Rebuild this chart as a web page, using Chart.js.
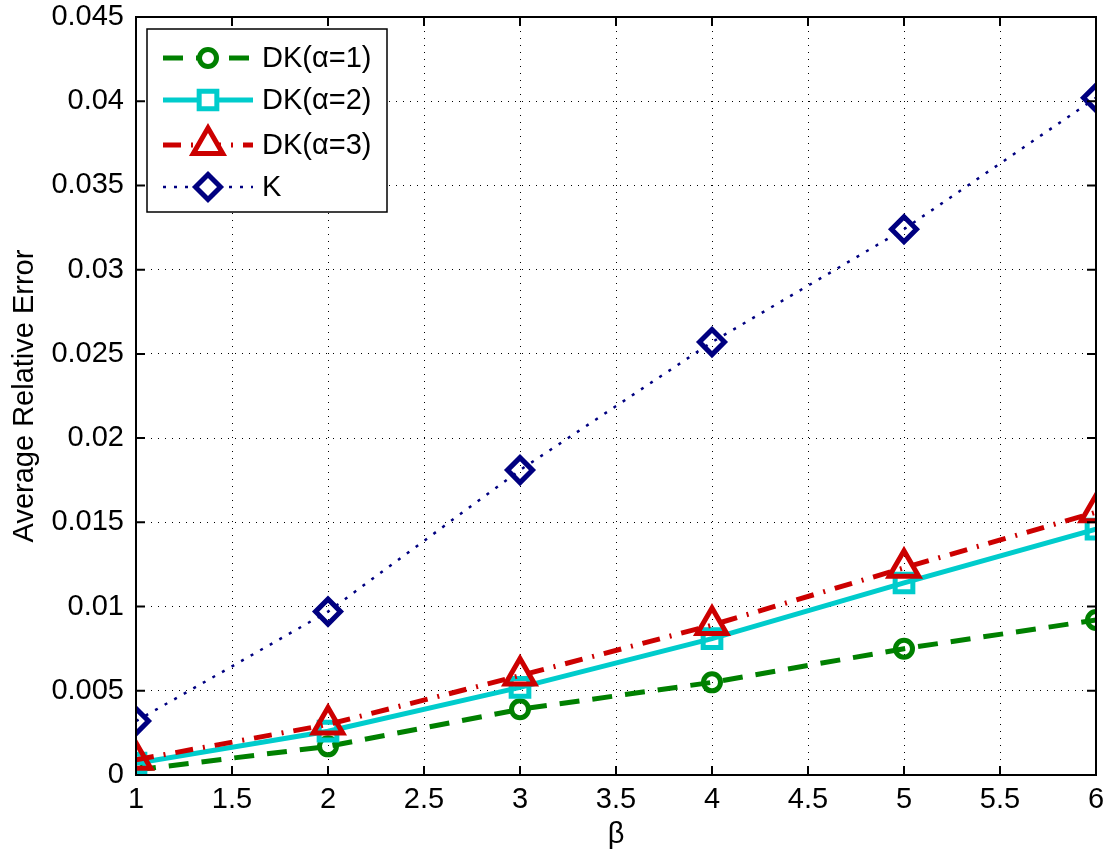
<!DOCTYPE html>
<html>
<head>
<meta charset="utf-8">
<script src="https://cdn.jsdelivr.net/npm/chart.js@4.4.1/dist/chart.umd.min.js"></script>
<style>
  html, body { margin: 0; padding: 0; background: #fff; }
  #wrap { width: 1113px; height: 857px; }
</style>
</head>
<body>
<div id="wrap"><canvas id="chart" width="1113" height="857"></canvas></div>
<script>
// data
const betaValues = [1, 2, 3, 4, 5, 6];
const dkAlpha1 = [0.0003, 0.0017, 0.0039, 0.0055, 0.0075, 0.0092];
const dkAlpha2 = [0.0007, 0.0026, 0.0052, 0.0081, 0.0114, 0.0146];
const dkAlpha3 = [0.0009, 0.0030, 0.0059, 0.0089, 0.0123, 0.0156];
const kValues = [0.0032, 0.0097, 0.0181, 0.0257, 0.0324, 0.0402];
const seriesLabels = ['DK(\u03b1=1)', 'DK(\u03b1=2)', 'DK(\u03b1=3)', 'K'];

const FONT = '"Liberation Sans", Arial, sans-serif';
const FSIZE = 29;

function toPoints(ys) {
    return betaValues.map((x, i) => ({ x: x, y: ys[i] }));
}

// box around the plot, inward ticks, and the legend
const matlabBox = {
    id: 'matlabBox',
    afterDraw(chart) {
        const ctx = chart.ctx;
        const a = chart.chartArea;
        const xs = chart.scales.x, ys = chart.scales.y;
        ctx.save();
        ctx.strokeStyle = '#000';
        ctx.lineWidth = 2;
        ctx.setLineDash([]);
        ctx.strokeRect(a.left, a.top, a.right - a.left, a.bottom - a.top);
        ctx.beginPath();
        xs.ticks.forEach(t => {
            const px = xs.getPixelForValue(t.value);
            ctx.moveTo(px, a.bottom); ctx.lineTo(px, a.bottom - 9);
            ctx.moveTo(px, a.top); ctx.lineTo(px, a.top + 9);
        });
        ys.ticks.forEach(t => {
            const py = ys.getPixelForValue(t.value);
            ctx.moveTo(a.left, py); ctx.lineTo(a.left + 9, py);
            ctx.moveTo(a.right, py); ctx.lineTo(a.right - 9, py);
        });
        ctx.stroke();

        // legend
        const lx = 147, ly = 29, lw = 240, lh = 183;
        ctx.fillStyle = '#fff';
        ctx.fillRect(lx, ly, lw, lh);
        ctx.lineWidth = 1.5;
        ctx.strokeStyle = '#000';
        ctx.strokeRect(lx, ly, lw, lh);
        const rowY = [58, 100, 145, 187];
        chart.data.datasets.forEach((ds, r) => {
            const y = rowY[r];
            const pt = {
                pointStyle: ds.pointStyle,
                radius: ds.pointRadius,
                borderWidth: ds.pointBorderWidth,
                rotation: 0
            };
            ctx.save();
            ctx.strokeStyle = ds.borderColor;
            ctx.lineWidth = ds.borderWidth;
            ctx.setLineDash(ds.borderDash || []);
            ctx.beginPath();
            ctx.moveTo(163, y); ctx.lineTo(253, y);
            ctx.stroke();
            ctx.setLineDash([]);
            ctx.fillStyle = '#fff';
            ctx.lineWidth = ds.pointBorderWidth;
            Chart.helpers.drawPoint(ctx, pt, 208, y);
            ctx.restore();
            ctx.fillStyle = '#000';
            ctx.font = FSIZE + 'px ' + FONT;
            ctx.textBaseline = 'middle';
            ctx.textAlign = 'left';
            ctx.fillText(ds.label, 262, y + 1);
        });
        ctx.restore();
    }
};

const ctx = document.getElementById('chart');
new Chart(ctx, {
    type: 'line',
    data: {
        datasets: [
            {
                label: seriesLabels[0],
                data: toPoints(dkAlpha1),
                borderColor: '#008000',
                backgroundColor: 'rgba(0,0,0,0)',
                borderWidth: 5,
                borderDash: [20, 13],
                pointStyle: 'circle',
                pointRadius: 8.5,
                pointBorderWidth: 5,
                order: 2
            },
            {
                label: seriesLabels[1],
                data: toPoints(dkAlpha2),
                borderColor: '#00cccc',
                backgroundColor: 'rgba(0,0,0,0)',
                borderWidth: 5,
                borderDash: [],
                pointStyle: 'rect',
                pointRadius: 12.5,
                pointBorderWidth: 5,
                order: 1
            },
            {
                label: seriesLabels[2],
                data: toPoints(dkAlpha3),
                borderColor: '#cc0000',
                backgroundColor: 'rgba(0,0,0,0)',
                borderWidth: 5,
                borderDash: [18, 10, 2, 10],
                pointStyle: 'triangle',
                pointRadius: 17,
                pointBorderWidth: 5,
                order: 0
            },
            {
                label: seriesLabels[3],
                data: toPoints(kValues),
                borderColor: '#000080',
                backgroundColor: 'rgba(0,0,0,0)',
                borderWidth: 2.5,
                borderDash: [3, 8],
                pointStyle: 'rectRot',
                pointRadius: 12.5,
                pointBorderWidth: 5,
                order: 3
            }
        ]
    },
    options: {
        responsive: false,
        animation: false,
        layout: { autoPadding: false, padding: { left: 0, right: 17, top: 17, bottom: 0 } },
        elements: { line: { tension: 0 } },
        plugins: {
            legend: { display: false },
            tooltip: { enabled: false }
        },
        scales: {
            x: {
                type: 'linear',
                min: 1,
                max: 6,
                ticks: {
                    stepSize: 0.5,
                    color: '#000',
                    font: { family: FONT, size: FSIZE },
                    padding: 8,
                    maxRotation: 0,
                    callback: v => String(Number(v.toFixed(1)))
                },
                grid: { color: '#000', lineWidth: 1, drawTicks: false },
                border: { display: true, color: '#000', width: 2, dash: [1, 6] },
                title: {
                    display: true,
                    text: '\u03b2',
                    color: '#000',
                    font: { family: FONT, size: FSIZE },
                    padding: { top: 0, bottom: 5 }
                },
                afterFit: s => {
                    s.height = 82;
                    s.paddingLeft = 0;
                    s.paddingRight = 0;
                }
            },
            y: {
                min: 0,
                max: 0.045,
                ticks: {
                    stepSize: 0.005,
                    color: '#000',
                    font: { family: FONT, size: FSIZE },
                    padding: 12,
                    callback: v => String(Number(v.toFixed(3)))
                },
                grid: { color: '#000', lineWidth: 1, drawTicks: false },
                border: { display: true, color: '#000', width: 2, dash: [1, 6] },
                title: {
                    display: true,
                    text: 'Average Relative Error',
                    color: '#000',
                    font: { family: FONT, size: FSIZE },
                    padding: { top: 8, bottom: 0 }
                },
                afterFit: s => {
                    s.width = 136;
                    s.paddingTop = 0;
                    s.paddingBottom = 0;
                }
            }
        }
    },
    plugins: [matlabBox]
});
</script>
</body>
</html>
